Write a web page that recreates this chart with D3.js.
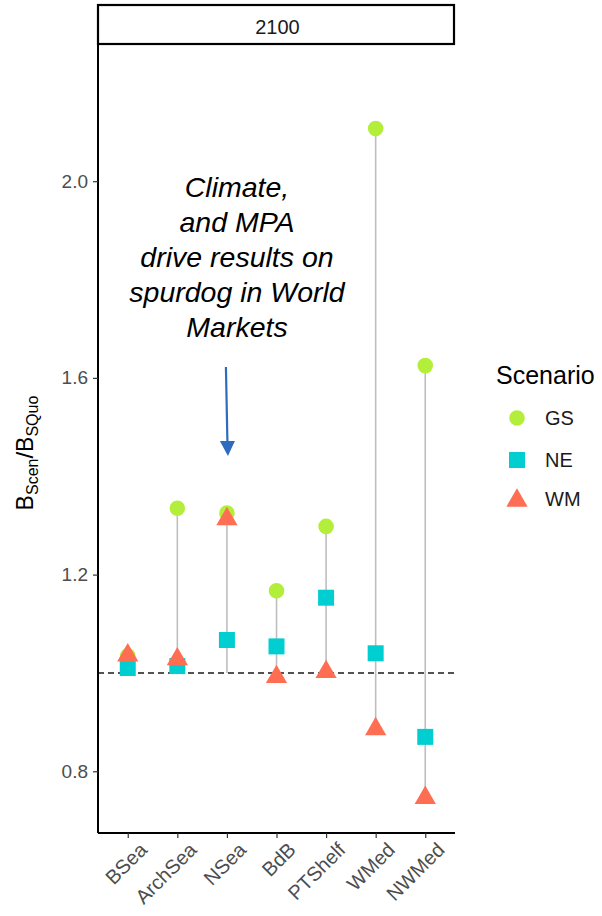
<!DOCTYPE html>
<html>
<head>
<meta charset="utf-8">
<script src="https://cdn.jsdelivr.net/npm/d3@7"></script>
<style>
  body { margin: 0; background: #fff; }
  svg { display: block; font-family: "Liberation Sans", Arial, sans-serif; }
</style>
</head>
<body>
<svg id="chart" width="602" height="916"></svg>
<script>
// Regions on the x axis
const regions = ["BSea", "ArchSea", "NSea", "BdB", "PTShelf", "WMed", "NWMed"];
// Biomass ratio (scenario / status quo) per scenario, 2100
const gsValues = [1.035, 1.335, 1.325, 1.167, 1.298, 2.107, 1.625];
const neValues = [1.010, 1.014, 1.067, 1.054, 1.153, 1.040, 0.870];
const wmValues = [1.039, 1.031, 1.316, 0.995, 1.005, 0.889, 0.749];
const scenarios = ["GS", "NE", "WM"];
const yTicks = [0.8, 1.2, 1.6, 2.0];
const panelTitle = "2100";
const noteLines = ["Climate,", "and MPA", "drive results on", "spurdog in World", "Markets"];

const colors = { GS: "#b3ee3a", NE: "#00ced1", WM: "#ff6e52" };
const FONT = '"Liberation Sans", Arial, sans-serif';

const svg = d3.select("#chart");
const margin = { left: 98, right: 147, top: 45, bottom: 83 };
const W = 602, H = 916;
const pw = W - margin.left - margin.right;
const ph = H - margin.top - margin.bottom;

const x = d3.scalePoint().domain(regions).range([0, pw]).padding(0.6);
const y = d3.scaleLinear().domain([0.6745, 2.277]).range([ph, 0]);

const g = svg.append("g").attr("transform", `translate(${margin.left},${margin.top})`);

// strip with the facet label
svg.append("rect")
  .attr("x", margin.left).attr("y", 5)
  .attr("width", pw - 1).attr("height", margin.top - 6)
  .attr("fill", "#fff").attr("stroke", "#000").attr("stroke-width", 2.2);
svg.append("text")
  .attr("x", margin.left + pw / 2 + 1).attr("y", 34)
  .attr("text-anchor", "middle").attr("font-size", 20).attr("fill", "#1a1a1a")
  .text(panelTitle);

const rows = regions.map((r, i) => ({
  region: r, GS: gsValues[i], NE: neValues[i], WM: wmValues[i]
}));

// range segments from the reference level to the extremes
g.selectAll("line.range").data(rows).enter().append("line")
  .attr("class", "range")
  .attr("x1", d => x(d.region)).attr("x2", d => x(d.region))
  .attr("y1", d => y(Math.min(1, d.GS, d.NE, d.WM)))
  .attr("y2", d => y(Math.max(1, d.GS, d.NE, d.WM)))
  .attr("stroke", "#bebebe").attr("stroke-width", 1.6);

// reference line at ratio 1
g.append("line")
  .attr("x1", 0).attr("x2", pw)
  .attr("y1", y(1)).attr("y2", y(1))
  .attr("stroke", "#1a1a1a").attr("stroke-width", 1.4)
  .attr("stroke-dasharray", "6,4");

const sym = {
  GS: d3.symbol().type(d3.symbolCircle).size(Math.PI * 7.8 * 7.8)(),
  NE: d3.symbol().type(d3.symbolSquare).size(16 * 16)(),
  WM: d3.symbol().type(d3.symbolTriangle).size(195)()
};

scenarios.forEach(s => {
  g.selectAll(`path.pt-${s}`).data(rows).enter().append("path")
    .attr("class", `pt-${s}`)
    .attr("d", sym[s])
    .attr("transform", d => `translate(${x(d.region)},${y(d[s]) + (s === "WM" ? 1.5 : 0)})`)
    .attr("fill", colors[s]);
});

// axes
const yAxis = d3.axisLeft(y).tickValues(yTicks).tickFormat(d3.format(".1f")).tickSize(5).tickPadding(5);
const ya = g.append("g").call(yAxis);
ya.select(".domain").attr("stroke", "#000").attr("stroke-width", 2).attr("d", `M0,0V${ph}`);
ya.selectAll(".tick line").attr("stroke", "#333").attr("stroke-width", 1.2);
ya.selectAll(".tick text").attr("font-size", 19).attr("fill", "#4d4d4d")
  .attr("font-family", FONT);

const xAxis = d3.axisBottom(x).tickSize(5).tickPadding(3);
const xa = g.append("g").attr("transform", `translate(0,${ph})`).call(xAxis);
xa.select(".domain").attr("stroke", "#000").attr("stroke-width", 2).attr("d", `M0,0H${pw}`);
xa.selectAll(".tick line").attr("stroke", "#333").attr("stroke-width", 1.2);
xa.selectAll(".tick text")
  .attr("font-size", 20).attr("fill", "#4d4d4d")
  .attr("font-family", FONT)
  .attr("text-anchor", "end")
  .attr("x", 0).attr("y", 0)
  .attr("dy", "0.71em")
  .attr("transform", "translate(10,8) rotate(-45)");

// y axis title: B_Scen / B_SQuo
const yt = svg.append("text")
  .attr("transform", "translate(33,453) rotate(-90)")
  .attr("text-anchor", "middle").attr("fill", "#000").attr("font-size", 23);
yt.append("tspan").text("B");
yt.append("tspan").attr("font-size", 16).attr("dy", 5).text("Scen");
yt.append("tspan").attr("font-size", 24).attr("dy", -5).text("/");
yt.append("tspan").text("B");
yt.append("tspan").attr("font-size", 16).attr("dy", 5).text("SQuo");

// annotation
const note = svg.append("text")
  .attr("text-anchor", "middle").attr("font-size", 28.5)
  .attr("font-style", "italic").attr("fill", "#000");
noteLines.forEach((t, i) => {
  note.append("tspan").attr("x", 237).attr("y", 197 + i * 35).text(t);
});

// arrow
const ax = margin.left + x("NSea");
svg.append("line")
  .attr("x1", ax - 1).attr("y1", 367).attr("x2", ax + 0.5).attr("y2", 442)
  .attr("stroke", "#2e6bbf").attr("stroke-width", 2.2);
svg.append("path")
  .attr("d", `M${ax - 7},441 L${ax + 8},441 L${ax + 1},456 Z`)
  .attr("fill", "#2e6bbf");

// legend
const lg = svg.append("g").attr("transform", "translate(496,0)");
lg.append("text").attr("x", 0).attr("y", 384).attr("font-size", 25).attr("fill", "#000").text("Scenario");
const legendY = [418, 460, 499];
scenarios.forEach((s, i) => {
  const cy = legendY[i];
  lg.append("path").attr("d", sym[s])
    .attr("transform", `translate(21,${cy + (s === "WM" ? 1.5 : 0)})`)
    .attr("fill", colors[s]);
  lg.append("text").attr("x", 49).attr("y", cy + 7).attr("font-size", 20).attr("fill", "#1a1a1a").text(s);
});
</script>
</body>
</html>
